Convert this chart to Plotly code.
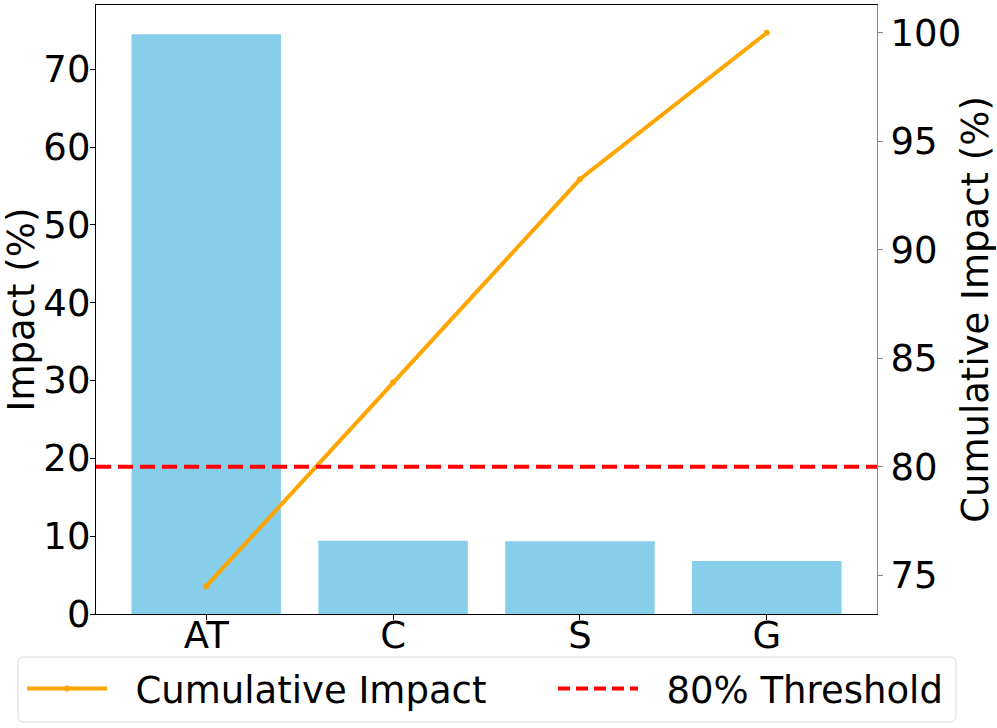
import plotly.graph_objects as go

categories = ["AT", "C", "S", "G"]
impact = [74.5, 9.4, 9.35, 6.8]
cumulative = [74.5, 83.9, 93.25, 100.0]
threshold = 80

FONT = "DejaVu Sans"
FS = 37

W, H = 997, 728
L, R, T, B = 96, 120, 5, 114
pw, ph = W - L - R, H - T - B

def px2paper(x, y):
    return (x - L) / pw, (H - B - y) / ph

NB = "\u00a0\u00a0"

fig = go.Figure()
fig.add_trace(go.Bar(x=categories, y=impact, marker=dict(color="#87CEEB", line=dict(width=0)),
                     width=0.8, showlegend=False, yaxis="y"))
fig.add_trace(go.Scatter(x=categories, y=cumulative, mode="lines+markers", name=NB + "Cumulative Impact",
                         line=dict(color="orange", width=4), marker=dict(size=6, color="orange"),
                         yaxis="y2", legend="legend"))
fig.add_trace(go.Scatter(x=[None], y=[None], mode="lines", name=NB + "80% Threshold",
                         line=dict(color="red", width=4, dash="12px,6px"), yaxis="y2",
                         legend="legend2"))
fig.add_shape(type="line", xref="paper", x0=0, x1=1, yref="y2", y0=threshold, y1=threshold,
              line=dict(color="red", width=4, dash="15px,7px"), layer="above")

# legend frame (rounded rectangle)
x0, y0 = px2paper(18, 722)
x1, y1 = px2paper(956, 657)
rx, ry = 6 / pw, 6 / ph
path = (f"M{x0+rx},{y1} L{x1-rx},{y1} Q{x1},{y1} {x1},{y1-ry} L{x1},{y0+ry} Q{x1},{y0} {x1-rx},{y0} "
        f"L{x0+rx},{y0} Q{x0},{y0} {x0},{y0+ry} L{x0},{y1-ry} Q{x0},{y1} {x0+rx},{y1} Z")
fig.add_shape(type="path", xref="paper", yref="paper", path=path,
              line=dict(color="#d9d9d9", width=1), fillcolor="white", layer="below")

lx1, ly = px2paper(22, 689)
lx2, _ = px2paper(553, 689)

fig.update_layout(
    width=W, height=H,
    margin=dict(l=L, r=R, t=T, b=B),
    paper_bgcolor="white", plot_bgcolor="rgba(0,0,0,0)",
    font=dict(family=FONT, size=FS, color="black"),
    xaxis=dict(range=[-0.59, 3.59], showline=True, linecolor="black", linewidth=1.3, mirror=True,
               ticks="outside", ticklen=5, tickcolor="black", showgrid=False, automargin=False,
               tickfont=dict(size=FS), ticklabelstandoff=-17),
    yaxis=dict(title=dict(text="Impact (%)", standoff=3, font=dict(size=FS)), range=[0, 78.25],
               showline=True, linecolor="black", linewidth=1.3, ticks="outside", ticklen=5,
               tickcolor="black", showgrid=False, zeroline=False, dtick=10, tickfont=dict(size=FS),
               automargin=False, ticklabelstandoff=-8),
    yaxis2=dict(title=dict(text="Cumulative Impact (%)", standoff=6, font=dict(size=FS)),
                range=[73.22, 101.28], overlaying="y", side="right", showline=True,
                linecolor="#888888", linewidth=1.3, ticks="outside", ticklen=5, tickcolor="#888888",
                showgrid=False, zeroline=False, dtick=5, tickfont=dict(size=FS), automargin=False),
    legend=dict(orientation="h", x=lx1, xanchor="left", y=ly, yanchor="middle",
                bgcolor="rgba(0,0,0,0)", borderwidth=0, font=dict(size=FS), itemwidth=80),
    legend2=dict(orientation="h", x=lx2, xanchor="left", y=ly, yanchor="middle",
                 bgcolor="rgba(0,0,0,0)", borderwidth=0, font=dict(size=FS), itemwidth=80),
)

fig.write_html("out.html", post_script="document.body.style.margin='0';",
               config={"displayModeBar": False})
